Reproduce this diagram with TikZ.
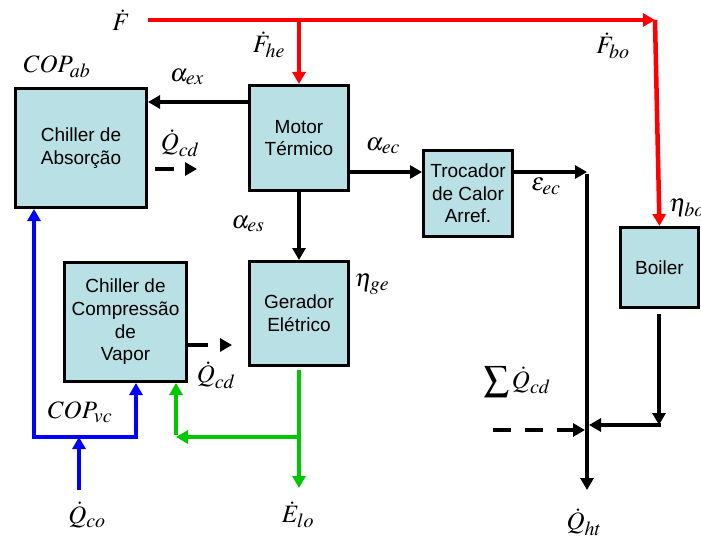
\documentclass[tikz,border=0pt]{standalone}
\usepackage{mathptmx}
\usepackage{fontspec}
\setsansfont{Liberation Sans}
\usetikzlibrary{arrows.meta}
\DeclareMathSizes{25}{25}{20}{16}
\definecolor{boxfill}{RGB}{185,224,228}
\definecolor{gr}{RGB}{0,200,0}
\newcommand\boxfont{\sffamily\fontsize{19}{22.7}\selectfont}
\newcommand\lblfont{\fontsize{25}{30}\selectfont}
\tikzset{
 box/.style={draw, line width=3pt, fill=boxfill, align=center, inner sep=0pt, font=\boxfont},
 arr/.style={line width=4.5pt, -{Triangle[length=12pt,width=13pt]}},
 dbl/.style={line width=4.5pt, {Triangle[length=12pt,width=13pt]}-{Triangle[length=12pt,width=13pt]}},
 lbl/.style={font=\lblfont, inner sep=0pt},
}
\begin{document}
\begin{tikzpicture}[x=1pt,y=-1pt]
\useasboundingbox (0,0) rectangle (701,540);
% boxes
\node[box, minimum width=131pt, minimum height=119pt] (chab) at (81,148) {Chiller de\\Absorção};
\node[box, minimum width=99pt, minimum height=105pt] (motor) at (299,138) {Motor\\Térmico};
\node[box, minimum width=89pt, minimum height=86pt] (troc) at (468,193.5) {Trocador\\de Calor\\Arref.};
\node[box, minimum width=122pt, minimum height=119pt] (chcomp) at (125.5,322) {Chiller de\\Compressão\\de\\Vapor};
\node[box, minimum width=99pt, minimum height=104pt] (ger) at (299,313.5) {Gerador\\Elétrico};
\node[box, minimum width=78pt, minimum height=80pt] (boiler) at (659.5,267.5) {Boiler};
% coordinates
\coordinate (Fs) at (148,20);
\coordinate (Fj) at (299,20);
\coordinate (Fe) at (655,20);
\coordinate (j1) at (587,172);
\coordinate (qht) at (587,490);
\coordinate (bc) at (659,425);
\coordinate (jb) at (589,425);
\coordinate (ds) at (493,430);
\coordinate (jd) at (585,430);
\coordinate (bl) at (34,437);
\coordinate (br) at (136,437);
\coordinate (bm) at (79,437);
\coordinate (bq) at (79,490);
\coordinate (gj) at (299,437);
\coordinate (gc) at (176,437);
\coordinate (ge) at (299,488);
\coordinate (q1s) at (155,169);
\coordinate (q1e) at (197,169);
\coordinate (q2s) at (188,345);
\coordinate (q2e) at (232,345);
% red
\draw[arr, red] (Fs) -- (Fe);
\draw[arr, red] (Fj) -- (motor.north);
\draw[arr, red] (Fe) -- (boiler.north);
% black
\draw[arr] (motor.west |- 0,102) -- (chab.east |- 0,102);
\draw[arr] (motor.east |- 0,172) -- (troc.west |- 0,172);
\draw[arr] (troc.east |- 0,172) -- (j1);
\draw[arr] ([yshift=-2pt]j1) -- (qht);
\draw[arr] (motor.south) -- (ger.north);
\draw[arr, shorten <=5pt] (boiler.south -| bc) -- (bc);
\draw[arr] ([xshift=2pt]bc) -- (jb);
\draw[arr, dash pattern=on 18pt off 14pt] (ds) -- (jd);
\draw[arr, dash pattern=on 19pt off 20pt] (q1s) -- (q1e);
\draw[arr, dash pattern=on 20pt off 20pt] (q2s) -- (q2e);
% blue
\draw[dbl, blue] (bl |- chab.south) -- (bl) -- (br) -- (br |- chcomp.south);
\draw[arr, blue] (bq) -- (bm);
% green
\draw[arr, gr, shorten <=3pt] (ger.south) -- (ge);
\draw[arr, gr] (gj) -- (gc);
\draw[arr, gr] ([yshift=2pt]gc) -- (gc |- chcomp.south);
% labels
\node[lbl] (lF) at (121,20) {$\dot F$};
\node[lbl] (lFhe) at (269,45) {$\dot F_{he}$};
\node[lbl] (lCOPab) at (57,67) {$COP_{ab}$};
\node[lbl] (laex) at (187,77) {$\alpha_{ex}$};
\node[lbl] (lQcd1) at (180,143) {$\dot Q_{cd}$};
\node[lbl] (laec) at (383,146) {$\alpha_{ec}$};
\node[lbl] (lFbo) at (613,46) {$\dot F_{bo}$};
\node[lbl] (leec) at (546,186) {$\varepsilon_{ec}$};
\node[lbl, anchor=west] (lebo) at (669,208) {$\eta_{bo}$};
\node[lbl] (laes) at (248,224) {$\alpha_{es}$};
\node[lbl] (lege) at (372,284) {$\eta_{ge}$};
\node[lbl] (lCOPvc) at (80,412) {$COP_{vc}$};
\node[lbl] (lQcd2) at (216,375) {$\dot Q_{cd}$};
\node[lbl] (lQco) at (87,515) {$\dot Q_{co}$};
\node[lbl] (lElo) at (298,515) {$\dot E_{lo}$};
\node[lbl] (lsum) at (517,382) {$\displaystyle\sum\dot Q_{cd}$};
\node[lbl] (lQht) at (584,522) {$\dot Q_{ht}$};
\end{tikzpicture}
\end{document}
